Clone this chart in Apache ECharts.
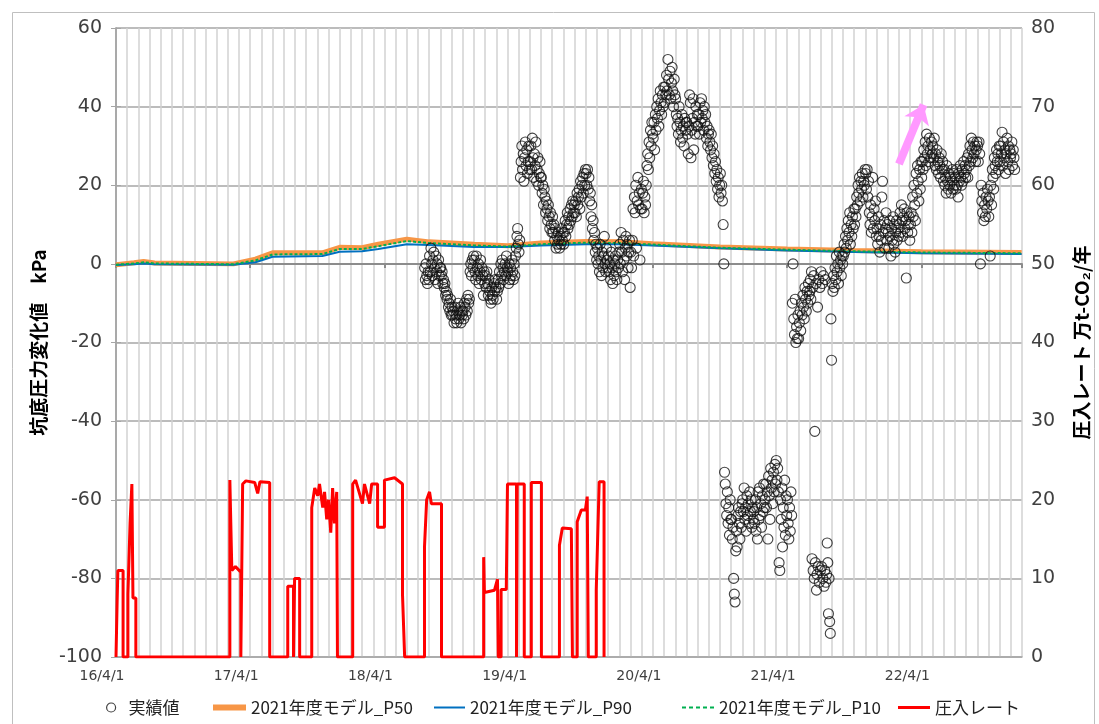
<!DOCTYPE html>
<html>
<head>
<meta charset="utf-8">
<script src="https://cdn.jsdelivr.net/npm/echarts@6/dist/echarts.min.js"></script>
<style>
  html, body { margin: 0; padding: 0; background: #fff; }
  #chart { width: 1099px; height: 724px; }
</style>
</head>
<body>
<div id="chart"></div>
<script>
// 横軸ラベル（毎年4/1）
const yearLabels = ['16/4/1', '17/4/1', '18/4/1', '19/4/1', '20/4/1', '21/4/1', '22/4/1'];

// 圧入レート（万t-CO2/年）
const rateDates = [
  '2016-04-01', '2016-04-04', '2016-04-04', '2016-04-06', '2016-04-20', '2016-04-20',
  '2016-05-03', '2016-05-03', '2016-05-09', '2016-05-14', '2016-05-17', '2016-05-25', '2016-05-25',
  '2017-02-06', '2017-02-06', '2017-02-11', '2017-02-20', '2017-03-06', '2017-03-06',
  '2017-03-11', '2017-03-11', '2017-03-20', '2017-04-13', '2017-04-21', '2017-04-27', '2017-05-24', '2017-05-24',
  '2017-07-12', '2017-07-12', '2017-07-28', '2017-07-28', '2017-07-31', '2017-07-31', '2017-08-14', '2017-08-14',
  '2017-09-16', '2017-09-16', '2017-09-24', '2017-10-02', '2017-10-07', '2017-10-16', '2017-10-21', '2017-10-27',
  '2017-11-01', '2017-11-07', '2017-11-12', '2017-11-17', '2017-11-23', '2017-11-25',
  '2018-01-06', '2018-01-06', '2018-01-14', '2018-02-02', '2018-02-07', '2018-02-20', '2018-02-25', '2018-03-13',
  '2018-03-13', '2018-04-01', '2018-04-01', '2018-04-28', '2018-05-20', '2018-05-20', '2018-05-26',
  '2018-07-19', '2018-07-19', '2018-07-25', '2018-08-02', '2018-08-07', '2018-09-04', '2018-09-04',
  '2018-12-28', '2018-12-28', '2018-12-30', '2019-01-27', '2019-02-04', '2019-02-06',
  '2019-02-13', '2019-02-13', '2019-02-26', '2019-03-01', '2019-03-26', '2019-03-26',
  '2019-03-28', '2019-03-28', '2019-04-16', '2019-04-16',
  '2019-05-05', '2019-05-05', '2019-06-02', '2019-06-02',
  '2019-07-21', '2019-07-21', '2019-07-29', '2019-08-23', '2019-08-26',
  '2019-09-08', '2019-09-08', '2019-09-19', '2019-09-30', '2019-10-05', '2019-10-08',
  '2019-10-30', '2019-10-30', '2019-11-07', '2019-11-20', '2019-11-20'
];
const rateValues = [
  0, 0, 7, 11, 11, 0,
  0, 8, 17, 22, 7.5, 7.5, 0,
  0, 22.5, 11, 11.5, 10.8, 0,
  0, 22, 22.4, 22.2, 20.8, 22.3, 22.2, 0,
  0, 9, 9, 0, 0, 10, 10, 0,
  0, 19, 21.5, 20.5, 22, 19, 21, 17.5,
  20, 15.8, 21.5, 17, 21, 0,
  0, 22, 22.5, 19.5, 22, 19.5, 22, 22,
  16.5, 16.5, 22.5, 22.8, 22, 8, 0,
  0, 14, 20, 21, 19.5, 19.5, 0,
  0, 12.7, 8.2, 8.5, 9.9, 0,
  0, 8.6, 8.6, 22, 22, 0,
  0, 22, 22, 0,
  0, 22.2, 22.2, 0,
  0, 14.2, 16.4, 16.3, 0,
  0, 17.2, 18.7, 18.7, 20.4, 0,
  0, 8.5, 22.3, 22.3, 0
];

// 2021年度モデル（kPa）
const modelDates = [
  '2016-04-01', '2016-05-20', '2016-06-15', '2016-07-15', '2017-02-15', '2017-04-15', '2017-06-01', '2017-10-15',
  '2017-12-01', '2018-02-01', '2018-03-15', '2018-06-01', '2018-08-01', '2018-12-01', '2019-03-01', '2019-06-01',
  '2019-10-01', '2020-01-01', '2020-04-01', '2020-10-01', '2021-04-01', '2021-10-01', '2022-04-01', '2022-12-31'
];
const p50 = [-0.2, 0.3, 0.6, 0.2, 0, 1.2, 2.8, 2.8, 4.2, 4.1, 5.0, 6.3, 5.6, 5.0, 4.6, 5.3, 5.7, 5.6, 5.1, 4.3, 3.8, 3.4, 3.1, 2.9];
const p90 = [-0.3, -0.1, 0.1, -0.1, -0.2, 0.4, 1.8, 2.0, 3.1, 3.2, 3.8, 5.0, 4.8, 4.3, 4.3, 4.7, 5.0, 5.0, 4.7, 4.0, 3.4, 3.0, 2.7, 2.5];
const p10 = [-0.2, 0.1, 0.4, 0.1, -0.1, 0.9, 2.4, 2.5, 3.8, 3.8, 4.5, 5.8, 5.3, 4.7, 4.4, 5.0, 5.4, 5.3, 4.9, 4.1, 3.6, 3.2, 2.9, 2.7];

// 実績値（kPa）：月ごとの読み取り値（null は欠測）
const obsMonths = [
  '2018-07', '2018-08', '2018-09', '2018-10', '2018-11', '2018-12',
  '2019-01', '2019-02', '2019-03', '2019-04', '2019-05', '2019-06',
  '2019-07', '2019-08', '2019-09', '2019-10', '2019-11', '2019-12',
  '2020-01', '2020-02', '2020-03', '2020-04', '2020-05', '2020-06',
  '2020-07', '2020-08', '2020-09', '2020-10', '2020-11', '2020-12',
  '2021-01', '2021-02', '2021-03', '2021-04', '2021-05', '2021-06',
  '2021-07', '2021-08', '2021-09', '2021-10', '2021-11', '2021-12',
  '2022-01', '2022-02', '2022-03', '2022-04', '2022-05', '2022-06',
  '2022-07', '2022-08', '2022-09', '2022-10', '2022-11', '2022-12'
];
const obsValues = [
  [null, null, null, null, null, null, null, null, null, -1, -4, 0, -3, -5, -2, -4],
  [2, -2, 4, 0, -3, 1, 3, -1, -4, 2, -2, 0, -5, 1, -3, -1],
  [-1, -3, -2, -5, -4, -6, -5, -8, -7, -9, -8, -11, -10, -12, -9, -13],
  [-11, -13, -12, -15, -11, -14, -13, -15, -12, -10, -14, -13, -11, -15, -12, -13],
  [-12, -14, -10, -11, -13, -9, -12, -8, -10, -9, -2, 0, -3, 1, -1, 2],
  [1, -2, -4, 2, -1, -3, 0, -5, -2, 1, -4, -1, -3, -8, -2, -5],
  [-3, -6, -2, -5, -8, -4, -7, -9, -10, -6, -8, -9, -5, -7, -4, -6],
  [-9, -7, -4, -6, -2, -5, 0, -3, 1, -1, -4, -2, 0, -3, 2, -1],
  [-2, -5, 0, -4, -1, -3, 1, -2, -4, 0, -3, 2, 4, 7, 9, 5],
  [3, 6, 22, 26, 30, 24, 28, 21, 27, 31, 25, 29, 23, 26, 30, 24],
  [26, 30, 24, 32, 27, 22, 28, 25, 31, 21, 24, 27, 20, 23, 26, 22],
  [22, 18, 20, 15, 19, 17, 13, 16, 14, 11, 15, 12, 9, 13, 10, 8],
  [12, 8, 10, 6, 9, 4, 7, 5, 8, 6, 4, 7, 5, 9, 6, 8],
  [5, 8, 11, 7, 10, 13, 9, 12, 10, 14, 11, 15, 12, 16, 13, 15],
  [13, 16, 12, 18, 15, 17, 19, 14, 21, 17, 20, 22, 18, 23, 20, 24],
  [23, 20, 24, 19, 22, 16, 18, 12, 15, 9, 11, 6, 8, 3, 5, 1],
  [4, 0, 2, -2, 5, 1, -3, 3, -1, 2, 7, 0, -2, 4, 1, -1],
  [2, -2, 0, -4, 3, -1, -5, 1, -3, 0, 2, -2, -4, 1, -1, 3],
  [5, 0, 8, 3, -2, 6, 1, -4, 4, 7, 2, 5, -1, 3, 6, -6],
  [3, -1, 6, 14, 2, 17, 13, 20, 4, 16, 22, 15, 18, 1, 14, 19],
  [14, 18, 21, 13, 17, 15, 20, 25, 28, 24, 31, 27, 34, 30, 36, 33],
  [32, 36, 29, 38, 34, 40, 37, 42, 35, 39, 44, 41, 38, 43, 40, 45],
  [41, 45, 43, 48, 44, 52, 47, 43, 49, 42, 46, 50, 44, 40, 47, 43],
  [42, 38, 35, 37, 33, 40, 36, 31, 34, 38, 32, 35, 30, 37, 34, 36],
  [36, 33, 28, 35, 43, 41, 27, 34, 37, 42, 29, 36, 33, 40, 35, 38],
  [35, 38, 33, 41, 36, 42, 37, 39, 34, 40, 36, 38, 32, 35, 30, 33],
  [34, 31, 29, 33, 27, 30, 25, 28, 23, 26, 21, 24, 19, 22, 17, 20],
  [23, 18, 20, 16, 10, 0, -53, -56, -61, -64, -58, -66, -62, -69, -60, -65],
  [-65, -70, -67, -80, -84, -86, -73, -68, -72, -64, -62, -66, -70, -63, -67, -61],
  [-60, -63, -57, -65, -62, -68, -59, -64, -61, -66, -58, -63, -60, -67, -62, -65],
  [-63, -66, -60, -68, -62, -70, -58, -65, -57, -64, -61, -67, -59, -63, -56, -62],
  [-60, -56, -62, -58, -70, -54, -59, -65, -52, -57, -55, -61, -53, -58, -51, -56],
  [-50, -55, -52, -58, -76, -78, -60, -65, -57, -72, -62, -67, -55, -69, -59, -64],
  [-60, -66, -70, -62, -68, -58, -64, -10, 0, -14, -18, -9, -20, -16, -19, -13],
  [-19, -15, -12, -17, -10, -13, -8, -11, -14, -6, -9, -12, -7, -10, -5, -8],
  [-7, -4, -9, -2, -75, -6, -78, -3, -80, -42.6, -76, -5, -83, -79, -11, -77, -4, -81, -6, -78],
  [-2, -77, -5, -80, -3, -82, -78, -4, -81, -79, -71, -76, -89, -80, -91, -94, -14, -24.5],
  [-5, -7, -3, -6, -1, -4, 2, -2, 0, -5, 3, -1, 1, -3, 2, 0],
  [2, 5, 3, 7, 4, 9, 6, 11, 8, 13, 5, 10, 7, 12, 9, 14],
  [10, 14, 12, 17, 15, 20, 18, 22, 16, 21, 19, 23, 17, 21, 20, 24],
  [23, 19, 24, 17, 21, 13, 10, 15, 8, 12, 22, 9, 14, 11, 16, 7],
  [9, 5, 12, 7, 3, 10, 6, 17, 21, 8, 11, 4, 9, 13, 6, 10],
  [8, 4, 11, 7, 2, 9, 6, 12, 5, 10, 3, 8, 11, 6, 9, 7],
  [10, 13, 8, 15, 11, 7, 12, 14, 9, 11, -3.6, 13, 8, 10, 12, 6],
  [10, 13, 8, 17, 12, 20, 15, 11, 23, 18, 25, 21, 16, 24, 19, 26],
  [22, 26, 24, 29, 27, 31, 25, 33, 28, 30, 26, 32, 29, 27, 31, 28],
  [30, 27, 32, 25, 28, 24, 29, 26, 23, 27, 25, 22, 28, 24, 26, 21],
  [24, 20, 22, 18, 25, 21, 19, 23, 20, 22, 18, 21, 24, 19, 23, 20],
  [22, 19, 24, 20, 17, 23, 21, 25, 22, 20, 24, 21, 26, 23, 25, 22],
  [24, 27, 22, 28, 25, 30, 26, 32, 29, 27, 31, 28, 30, 26, 29, 31],
  [30, 26, 31, 28, 0, 20, 16, 13, 18, 11, 15, 12, 17, 14, 19, 16],
  [12, 17, 2, 20, 15, 24, 22, 19, 27, 25, 23, 29, 26, 28, 24, 30],
  [26, 30, 28, 33.5, 25, 31, 27, 29, 23, 28, 32, 26, 30, 24, 29, 27],
  [28, 31, 25, 29, 27, 24, null, null, null, null, null, null, null, null, null, null]
];

// ピンク矢印（始点・終点）
const arrowFrom = ['2022-02-01', 25.4];
const arrowTo = ['2022-04-07', 40.5];

// 2016/4/1 からの月数に変換
function toMonth(s) {
  const p = s.split('-').map(Number);
  const d = p[2] || 1;
  const dim = new Date(p[0], p[1], 0).getDate();
  return (p[0] - 2016) * 12 + (p[1] - 4) + (d - 1) / dim;
}

const rateData = rateDates.map((d, i) => [toMonth(d), rateValues[i]]);
const p50Data = modelDates.map((d, i) => [toMonth(d), p50[i]]);
const p90Data = modelDates.map((d, i) => [toMonth(d), p90[i]]);
const p10Data = modelDates.map((d, i) => [toMonth(d), p10[i]]);

const obsData = [];
obsMonths.forEach((ms, k) => {
  const base = toMonth(ms + '-01');
  const vals = obsValues[k];
  vals.forEach((v, i) => {
    if (v !== null) obsData.push([base + (i + 0.5) / vals.length, v]);
  });
});

const chart = echarts.init(document.getElementById('chart'));
const axisGray = '#a6a6a6';
const labelFont = 'DejaVu Sans';
const jpFont = '"Noto Sans CJK JP", sans-serif';
const legendText = { fontSize: 17, color: '#222', fontFamily: jpFont };

// 凡例を項目ごとに配置
function legendItem(left, width, height, item) {
  return {
    left: left, top: 694,
    itemWidth: width, itemHeight: height,
    textStyle: legendText,
    selectedMode: false,
    data: [item]
  };
}

chart.setOption({
  animation: false,
  backgroundColor: '#fff',
  graphic: [{
    type: 'rect',
    left: 10, top: 10,
    shape: { width: 1082, height: 720 },
    style: { fill: 'none', stroke: '#bfbfbf', lineWidth: 1 },
    silent: true
  }],
  grid: { left: 116, right: 76, top: 28, bottom: 67 },
  legend: [
    legendItem(101, 25, 9, { name: '実績値', icon: 'circle', itemStyle: { color: 'rgba(0,0,0,0)', borderColor: '#111', borderWidth: 1.2 } }),
    legendItem(208, 33, 6, { name: '2021年度モデル_P50', icon: 'rect', itemStyle: { color: '#F79646' } }),
    legendItem(429, 31, 2, { name: '2021年度モデル_P90', icon: 'rect', itemStyle: { color: '#0070C0' } }),
    legendItem(677, 32, 2, {
      name: '2021年度モデル_P10',
      icon: 'path://M0,0H4V2H0Z M7,0H11V2H7Z M14,0H18V2H14Z M21,0H25V2H21Z M28,0H32V2H28Z',
      itemStyle: { color: '#00B050' }
    }),
    legendItem(893, 32, 3, { name: '圧入レート', icon: 'rect', itemStyle: { color: '#FF0000' } })
  ],
  xAxis: [{
    type: 'value', min: 0, max: 81, interval: 1,
    position: 'bottom',
    axisLine: { onZero: false, lineStyle: { color: axisGray, width: 1.5 } },
    axisTick: { show: false },
    axisLabel: {
      color: '#404040', fontSize: 14, fontFamily: labelFont, margin: 12,
      padding: [0, 28, 0, 0],
      formatter: v => {
        const m = Math.round(v);
        return m % 12 === 0 && yearLabels[m / 12] ? yearLabels[m / 12] : '';
      }
    },
    splitLine: { show: true, lineStyle: { color: '#d2d2d2', width: 1.5 } }
  }, {
    type: 'value', min: 0, max: 81, interval: 12,
    position: 'bottom',
    axisLine: { onZero: true, onZeroAxisIndex: 0, lineStyle: { color: '#8c8c8c', width: 2 } },
    axisTick: { show: true, length: 4, lineStyle: { color: '#8c8c8c', width: 2 } },
    axisLabel: { show: false },
    splitLine: { show: false }
  }],
  yAxis: [{
    type: 'value', min: -100, max: 60, interval: 20,
    position: 'left',
    name: '坑底圧力変化値　kPa',
    nameLocation: 'middle', nameGap: 66,
    nameTextStyle: { fontSize: 19, fontWeight: 'bold', color: '#000', fontFamily: jpFont },
    axisLine: { show: true, lineStyle: { color: axisGray, width: 1.5 } },
    axisTick: { show: true, length: 5, lineStyle: { color: axisGray } },
    axisLabel: { color: '#404040', fontSize: 19, fontFamily: labelFont, margin: 14 },
    splitLine: { show: true, lineStyle: { color: axisGray, width: 1.5 } }
  }, {
    type: 'value', min: 0, max: 80, interval: 10,
    position: 'right',
    name: '圧入レート 万t-CO₂/年',
    nameLocation: 'middle', nameGap: 50,
    nameTextStyle: { fontSize: 19, fontWeight: 'bold', color: '#000', fontFamily: jpFont },
    axisLine: { show: true, lineStyle: { color: axisGray, width: 1.5 } },
    axisTick: { show: true, length: 5, lineStyle: { color: axisGray } },
    axisLabel: { color: '#404040', fontSize: 19, fontFamily: labelFont, margin: 9 },
    splitLine: { show: false }
  }],
  series: [{
    name: '2021年度モデル_P50',
    type: 'line', xAxisIndex: 0, yAxisIndex: 0,
    data: p50Data, symbol: 'none',
    lineStyle: { color: '#F79646', width: 5 },
    itemStyle: { color: '#F79646' },
    markLine: {
      silent: true, animation: false,
      symbol: ['none', 'arrow'], symbolSize: [20, 18],
      label: { show: false },
      lineStyle: { color: '#FF99FF', width: 8, type: 'solid' },
      data: [[
        { coord: [toMonth(arrowFrom[0]), arrowFrom[1]] },
        { coord: [toMonth(arrowTo[0]), arrowTo[1]] }
      ]]
    }
  }, {
    name: '2021年度モデル_P90',
    type: 'line', xAxisIndex: 0, yAxisIndex: 0,
    data: p90Data, symbol: 'none',
    lineStyle: { color: '#0070C0', width: 2 },
    itemStyle: { color: '#0070C0' }
  }, {
    name: '2021年度モデル_P10',
    type: 'line', xAxisIndex: 0, yAxisIndex: 0,
    data: p10Data, symbol: 'none',
    lineStyle: { color: '#00B050', width: 2, type: [3, 2] },
    itemStyle: { color: '#00B050' }
  }, {
    name: '圧入レート',
    type: 'line', xAxisIndex: 0, yAxisIndex: 1,
    data: rateData, symbol: 'none',
    lineStyle: { color: '#FF0000', width: 3 },
    itemStyle: { color: '#FF0000' }
  }, {
    name: '実績値',
    type: 'scatter', xAxisIndex: 0, yAxisIndex: 0,
    data: obsData, symbol: 'circle', symbolSize: 10,
    itemStyle: { color: 'rgba(0,0,0,0)', borderColor: '#111', borderWidth: 1.1 },
    z: 3
  }]
});
</script>
</body>
</html>
